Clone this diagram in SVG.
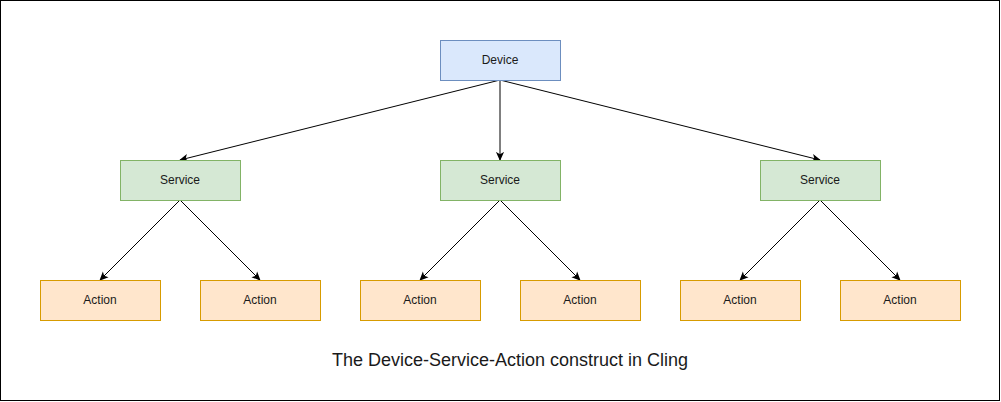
<svg xmlns="http://www.w3.org/2000/svg" width="1001" height="402" viewBox="0 0 1001 402">
<style>
text{font-family:"Liberation Sans",Arial,sans-serif;fill:#1a1a1a;text-anchor:middle;dominant-baseline:central}
.n{font-size:12px}
.dev{fill:#dae8fc;stroke:#6c8ebf}
.svc{fill:#d5e8d4;stroke:#82b366}
.act{fill:#ffe6cc;stroke:#d79b00}
.e{stroke:#000;stroke-width:1;fill:none;marker-end:url(#arr)}
</style>
<defs>
<marker id="arr" viewBox="0 0 10 10" refX="9" refY="5" markerWidth="9" markerHeight="9" orient="auto" markerUnits="userSpaceOnUse">
<path d="M0,0.5 L10,5 L0,9.5 L2.5,5 Z" fill="#000"/>
</marker>
</defs>
<rect x="0.5" y="0.5" width="999" height="400" fill="#fff" stroke="#000"/>
<g id="connectors">
<path class="e" d="M500,80 L180,160"/>
<path class="e" d="M500,80 L500,160"/>
<path class="e" d="M500,80 L820,160"/>
<path class="e" d="M180,200 L100,280"/>
<path class="e" d="M180,200 L260,280"/>
<path class="e" d="M500,200 L420,280"/>
<path class="e" d="M500,200 L580,280"/>
<path class="e" d="M820,200 L740,280"/>
<path class="e" d="M820,200 L900,280"/>
</g>
<g id="device"><rect class="dev" x="440.5" y="40.5" width="120" height="40"/><text class="n" x="500" y="60">Device</text></g>
<g id="service1"><rect class="svc" x="120.5" y="160.5" width="120" height="40"/><text class="n" x="180" y="180">Service</text></g>
<g id="service2"><rect class="svc" x="440.5" y="160.5" width="120" height="40"/><text class="n" x="500" y="180">Service</text></g>
<g id="service3"><rect class="svc" x="760.5" y="160.5" width="120" height="40"/><text class="n" x="820" y="180">Service</text></g>
<g id="action1"><rect class="act" x="40.5" y="280.5" width="120" height="40"/><text class="n" x="100" y="300">Action</text></g>
<g id="action2"><rect class="act" x="200.5" y="280.5" width="120" height="40"/><text class="n" x="260" y="300">Action</text></g>
<g id="action3"><rect class="act" x="360.5" y="280.5" width="120" height="40"/><text class="n" x="420" y="300">Action</text></g>
<g id="action4"><rect class="act" x="520.5" y="280.5" width="120" height="40"/><text class="n" x="580" y="300">Action</text></g>
<g id="action5"><rect class="act" x="680.5" y="280.5" width="120" height="40"/><text class="n" x="740" y="300">Action</text></g>
<g id="action6"><rect class="act" x="840.5" y="280.5" width="120" height="40"/><text class="n" x="900" y="300">Action</text></g>
<g id="caption"><text x="510" y="360" style="font-size:18px">The Device-Service-Action construct in Cling</text></g>
</svg>
